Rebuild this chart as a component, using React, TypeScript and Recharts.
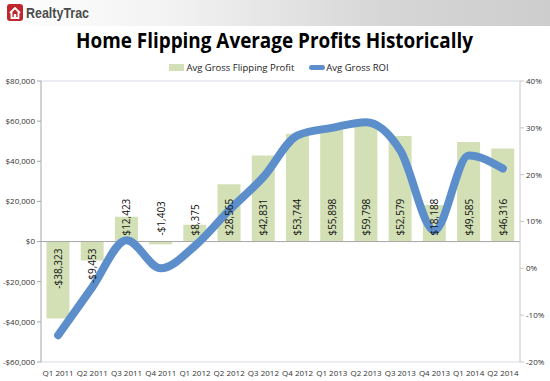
import React from 'react';
import { ComposedChart, Bar, Line, XAxis, YAxis, CartesianGrid, LabelList, ReferenceLine } from 'recharts';

// quarters, profit in dollars, ROI in percent
const quarters = ['Q1 2011', 'Q2 2011', 'Q3 2011', 'Q4 2011', 'Q1 2012', 'Q2 2012', 'Q3 2012', 'Q4 2012', 'Q1 2013', 'Q2 2013', 'Q3 2013', 'Q4 2013', 'Q1 2014', 'Q2 2014'];
const grossProfit = [-38323, -9453, 12423, -1403, 8375, 28565, 42831, 53744, 55898, 59798, 52579, 18188, 49585, 46316];
const grossRoi = [-14.3, -4, 6, 0, 4.8, 12.4, 19.5, 28.4, 30, 31.2, 25.2, 8.1, 24.1, 21.3];

const profitTicks = [-60000, -40000, -20000, 0, 20000, 40000, 60000, 80000];
const roiTicks = [-20, -10, 0, 10, 20, 30, 40];

const data = quarters.map((q, i) => ({ quarter: q, profit: grossProfit[i], roi: grossRoi[i] }));

const BAR = '#d3e0b6';
const LINE = '#5b8ecb';
const FONT = '"Open Sans", "Liberation Sans", sans-serif';

const money = (v: number) => (v < 0 ? '-$' : '$') + Math.abs(v).toLocaleString('en-US');

const BarValueLabel = (props: any) => {
  const { x, y, width, height, value } = props;
  const cx = x + width / 2;
  const top = Math.min(y, y + height);
  const bottom = Math.max(y, y + height);
  let anchor = 'start';
  let ty = (value >= 0 ? bottom : top) - 6;
  if (value < -5000) {
    anchor = 'end';
    ty = top + 7;
  }
  return (
    <text x={cx} y={ty} transform={`rotate(-90 ${cx} ${ty})`} textAnchor={anchor} dominantBaseline="central"
      fontSize={10} fontFamily={FONT} fill="#111">
      {money(value)}
    </text>
  );
};

const App = () => {
  return (
    <div style={{ position: 'absolute', left: 0, top: 0, width: 550, height: 381, background: '#fff', overflow: 'hidden' }}>
      {/* header band with logo */}
      <div style={{ position: 'absolute', left: 0, top: 0, width: 550, height: 26, background: 'linear-gradient(to right, #ffffff 0%, #f3f3f3 30%, #d6d6d6 70%, #cdcdcd 100%)' }} />
      <svg width={110} height={26} style={{ position: 'absolute', left: 0, top: 0 }}>
        <rect x={7} y={4} width={16} height={17} rx={3} fill="#c0272d" />
        <path d="M10 13 L15 8 L20 13 M11.5 12 V18 H18.5 V12" stroke="#fff" strokeWidth={1.8} fill="none" />
        <rect x={13.8} y={14} width={2.4} height={4} fill="#fff" />
        <text x={26} y={18} fontFamily='"Liberation Sans", Arial, sans-serif' fontWeight="bold" fontSize={14.5} fill="#4b4b4b" textLength={63} lengthAdjust="spacingAndGlyphs">RealtyTrac</text>
      </svg>
      <svg width={550} height={30} style={{ position: 'absolute', left: 0, top: 26 }}>
        <text x={76} y={22} fontFamily='"Open Sans", sans-serif' fontWeight="bold" fontSize={21} fill="#000" textLength={397} lengthAdjust="spacingAndGlyphs">
          Home Flipping Average Profits Historically
        </text>
      </svg>
      {/* legend */}
      <div style={{ position: 'absolute', left: 0, top: 61, width: 550, display: 'flex', justifyContent: 'center', alignItems: 'center', fontFamily: FONT, fontSize: 9.5, color: '#222' }}>
        <div style={{ display: 'flex', alignItems: 'center', marginLeft: 8 }}>
          <span style={{ display: 'inline-block', width: 15, height: 7, background: BAR, marginRight: 2 }} />
          <span style={{ marginRight: 15 }}>Avg Gross Flipping Profit</span>
          <span style={{ display: 'inline-block', width: 16, height: 5, borderRadius: 3, background: LINE, marginRight: 1 }} />
          <span>Avg Gross ROI</span>
        </div>
      </div>
      <ComposedChart width={550} height={381} data={data} margin={{ top: 81, right: 0, bottom: 0, left: 0 }}
        barCategoryGap="16%" style={{ position: 'absolute', left: 0, top: 0 }}>
        <CartesianGrid vertical={false} stroke="#d8dbe6" />
        <XAxis dataKey="quarter" height={19} axisLine={false} tickLine={false} interval={0}
          tick={{ fontSize: 8, fontFamily: FONT, fill: '#333' }} tickMargin={2} />
        <YAxis yAxisId="profit" width={41} domain={[-60000, 80000]} ticks={profitTicks} tickFormatter={money}
          stroke="#a6a6a6" tickSize={4} tick={{ fontSize: 8, fontFamily: FONT, fill: '#333' }} />
        <YAxis yAxisId="roi" orientation="right" width={30} domain={[-20, 40]} ticks={roiTicks} tickFormatter={(v: number) => `${v}%`}
          stroke="#c8c8c8" tickSize={4} tick={{ fontSize: 8, fontFamily: FONT, fill: '#333' }} />
        <ReferenceLine yAxisId="profit" y={0} stroke="#a6a6a6" />
        <Bar yAxisId="profit" dataKey="profit" name="Avg Gross Flipping Profit" fill={BAR} isAnimationActive={false}>
          <LabelList dataKey="profit" content={BarValueLabel} />
        </Bar>
        <Line yAxisId="roi" dataKey="roi" name="Avg Gross ROI" type="monotone" stroke={LINE} strokeWidth={8}
          strokeLinecap="round" strokeLinejoin="round" dot={false} activeDot={false} isAnimationActive={false} />
      </ComposedChart>
    </div>
  );
};

export default App;
